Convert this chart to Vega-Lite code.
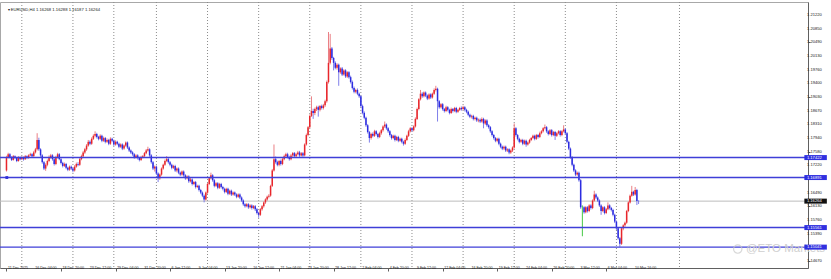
{
"$schema": "https://vega.github.io/schema/vega-lite/v6.json",
"width": 808, "height": 266,
"autosize": {"type": "none"},
"padding": {"left": 0, "top": 2, "right": 23, "bottom": 11},
"background": "#ffffff",
"config": {"view": {"stroke": "#a8a8a8", "strokeWidth": 1}, "font": "Liberation Sans",
  "axis": {"labels": false, "grid": false, "title": null, "tickColor": "#606060", "domainColor": "#606060", "tickSize": 2.5}},
"datasets": {
"candles": [
{"i":0,"o":1.1708,"h":1.1747,"l":1.1705,"c":1.1743},{"i":1,"o":1.1743,"h":1.1755,"l":1.1740,"c":1.1751},{"i":2,"o":1.1751,"h":1.1754,"l":1.1740,"c":1.1743},{"i":3,"o":1.1743,"h":1.1746,"l":1.1733,"c":1.1736},{"i":4,"o":1.1736,"h":1.1749,"l":1.1734,"c":1.1746},{"i":5,"o":1.1746,"h":1.1748,"l":1.1738,"c":1.1741},{"i":6,"o":1.1741,"h":1.1743,"l":1.1730,"c":1.1733},{"i":7,"o":1.1733,"h":1.1746,"l":1.1731,"c":1.1743},{"i":8,"o":1.1743,"h":1.1745,"l":1.1735,"c":1.1738},{"i":9,"o":1.1738,"h":1.1746,"l":1.1736,"c":1.1743},
{"i":10,"o":1.1743,"h":1.1745,"l":1.1734,"c":1.1738},{"i":11,"o":1.1738,"h":1.1749,"l":1.1736,"c":1.1746},{"i":12,"o":1.1746,"h":1.1748,"l":1.1738,"c":1.1741},{"i":13,"o":1.1741,"h":1.1751,"l":1.1739,"c":1.1748},{"i":14,"o":1.1748,"h":1.1755,"l":1.1746,"c":1.1751},{"i":15,"o":1.1751,"h":1.1754,"l":1.1743,"c":1.1746},{"i":16,"o":1.1746,"h":1.1760,"l":1.1744,"c":1.1756},{"i":17,"o":1.1756,"h":1.1768,"l":1.1753,"c":1.1764},{"i":18,"o":1.1764,"h":1.1807,"l":1.1761,"c":1.1789},{"i":19,"o":1.1789,"h":1.1795,"l":1.1760,"c":1.1764},
{"i":20,"o":1.1764,"h":1.1767,"l":1.1744,"c":1.1748},{"i":21,"o":1.1748,"h":1.1751,"l":1.1726,"c":1.1730},{"i":22,"o":1.1730,"h":1.1733,"l":1.1709,"c":1.1713},{"i":23,"o":1.1713,"h":1.1727,"l":1.1707,"c":1.1723},{"i":24,"o":1.1723,"h":1.1737,"l":1.1719,"c":1.1733},{"i":25,"o":1.1733,"h":1.1748,"l":1.1730,"c":1.1743},{"i":26,"o":1.1743,"h":1.1752,"l":1.1739,"c":1.1748},{"i":27,"o":1.1748,"h":1.1751,"l":1.1734,"c":1.1738},{"i":28,"o":1.1738,"h":1.1741,"l":1.1721,"c":1.1725},{"i":29,"o":1.1725,"h":1.1747,"l":1.1722,"c":1.1743},
{"i":30,"o":1.1743,"h":1.1755,"l":1.1740,"c":1.1751},{"i":31,"o":1.1751,"h":1.1754,"l":1.1735,"c":1.1738},{"i":32,"o":1.1738,"h":1.1741,"l":1.1724,"c":1.1728},{"i":33,"o":1.1728,"h":1.1731,"l":1.1716,"c":1.1720},{"i":34,"o":1.1720,"h":1.1729,"l":1.1717,"c":1.1725},{"i":35,"o":1.1725,"h":1.1728,"l":1.1711,"c":1.1715},{"i":36,"o":1.1715,"h":1.1718,"l":1.1706,"c":1.1710},{"i":37,"o":1.1710,"h":1.1721,"l":1.1707,"c":1.1718},{"i":38,"o":1.1718,"h":1.1721,"l":1.1709,"c":1.1713},{"i":39,"o":1.1713,"h":1.1716,"l":1.1703,"c":1.1708},
{"i":40,"o":1.1708,"h":1.1722,"l":1.1705,"c":1.1718},{"i":41,"o":1.1718,"h":1.1729,"l":1.1715,"c":1.1725},{"i":42,"o":1.1725,"h":1.1730,"l":1.1719,"c":1.1723},{"i":43,"o":1.1723,"h":1.1742,"l":1.1720,"c":1.1738},{"i":44,"o":1.1738,"h":1.1750,"l":1.1735,"c":1.1746},{"i":45,"o":1.1746,"h":1.1760,"l":1.1743,"c":1.1756},{"i":46,"o":1.1756,"h":1.1768,"l":1.1752,"c":1.1764},{"i":47,"o":1.1764,"h":1.1778,"l":1.1760,"c":1.1774},{"i":48,"o":1.1774,"h":1.1789,"l":1.1771,"c":1.1784},{"i":49,"o":1.1784,"h":1.1788,"l":1.1775,"c":1.1779},
{"i":50,"o":1.1779,"h":1.1796,"l":1.1776,"c":1.1792},{"i":51,"o":1.1792,"h":1.1804,"l":1.1789,"c":1.1800},{"i":52,"o":1.1800,"h":1.1812,"l":1.1796,"c":1.1805},{"i":53,"o":1.1805,"h":1.1808,"l":1.1793,"c":1.1797},{"i":54,"o":1.1797,"h":1.1800,"l":1.1788,"c":1.1792},{"i":55,"o":1.1792,"h":1.1804,"l":1.1789,"c":1.1800},{"i":56,"o":1.1800,"h":1.1803,"l":1.1783,"c":1.1787},{"i":57,"o":1.1787,"h":1.1798,"l":1.1784,"c":1.1794},{"i":58,"o":1.1794,"h":1.1797,"l":1.1780,"c":1.1784},{"i":59,"o":1.1784,"h":1.1793,"l":1.1781,"c":1.1789},
{"i":60,"o":1.1789,"h":1.1792,"l":1.1775,"c":1.1779},{"i":61,"o":1.1779,"h":1.1796,"l":1.1776,"c":1.1792},{"i":62,"o":1.1792,"h":1.1795,"l":1.1783,"c":1.1787},{"i":63,"o":1.1787,"h":1.1790,"l":1.1773,"c":1.1777},{"i":64,"o":1.1777,"h":1.1788,"l":1.1774,"c":1.1784},{"i":65,"o":1.1784,"h":1.1787,"l":1.1775,"c":1.1779},{"i":66,"o":1.1779,"h":1.1782,"l":1.1767,"c":1.1771},{"i":67,"o":1.1771,"h":1.1780,"l":1.1768,"c":1.1777},{"i":68,"o":1.1777,"h":1.1780,"l":1.1762,"c":1.1766},{"i":69,"o":1.1766,"h":1.1777,"l":1.1763,"c":1.1774},
{"i":70,"o":1.1774,"h":1.1785,"l":1.1771,"c":1.1782},{"i":71,"o":1.1782,"h":1.1785,"l":1.1765,"c":1.1769},{"i":72,"o":1.1769,"h":1.1772,"l":1.1757,"c":1.1761},{"i":73,"o":1.1761,"h":1.1764,"l":1.1752,"c":1.1756},{"i":74,"o":1.1756,"h":1.1759,"l":1.1747,"c":1.1751},{"i":75,"o":1.1751,"h":1.1754,"l":1.1739,"c":1.1743},{"i":76,"o":1.1743,"h":1.1751,"l":1.1740,"c":1.1748},{"i":77,"o":1.1748,"h":1.1751,"l":1.1737,"c":1.1741},{"i":78,"o":1.1741,"h":1.1744,"l":1.1732,"c":1.1736},{"i":79,"o":1.1736,"h":1.1747,"l":1.1733,"c":1.1743},
{"i":80,"o":1.1743,"h":1.1749,"l":1.1740,"c":1.1746},{"i":81,"o":1.1746,"h":1.1757,"l":1.1743,"c":1.1754},{"i":82,"o":1.1754,"h":1.1765,"l":1.1751,"c":1.1761},{"i":83,"o":1.1761,"h":1.1771,"l":1.1758,"c":1.1764},{"i":84,"o":1.1764,"h":1.1767,"l":1.1744,"c":1.1748},{"i":85,"o":1.1748,"h":1.1751,"l":1.1726,"c":1.1730},{"i":86,"o":1.1730,"h":1.1733,"l":1.1709,"c":1.1713},{"i":87,"o":1.1713,"h":1.1721,"l":1.1705,"c":1.1718},{"i":88,"o":1.1718,"h":1.1721,"l":1.1696,"c":1.1700},{"i":89,"o":1.1700,"h":1.1703,"l":1.1677,"c":1.1687},
{"i":90,"o":1.1687,"h":1.1700,"l":1.1683,"c":1.1697},{"i":91,"o":1.1697,"h":1.1716,"l":1.1694,"c":1.1713},{"i":92,"o":1.1713,"h":1.1726,"l":1.1710,"c":1.1723},{"i":93,"o":1.1723,"h":1.1737,"l":1.1720,"c":1.1733},{"i":94,"o":1.1733,"h":1.1746,"l":1.1730,"c":1.1738},{"i":95,"o":1.1738,"h":1.1741,"l":1.1726,"c":1.1730},{"i":96,"o":1.1730,"h":1.1733,"l":1.1719,"c":1.1723},{"i":97,"o":1.1723,"h":1.1726,"l":1.1711,"c":1.1715},{"i":98,"o":1.1715,"h":1.1723,"l":1.1712,"c":1.1720},{"i":99,"o":1.1720,"h":1.1723,"l":1.1704,"c":1.1708},
{"i":100,"o":1.1708,"h":1.1716,"l":1.1703,"c":1.1713},{"i":101,"o":1.1713,"h":1.1716,"l":1.1698,"c":1.1702},{"i":102,"o":1.1702,"h":1.1705,"l":1.1693,"c":1.1697},{"i":103,"o":1.1697,"h":1.1708,"l":1.1694,"c":1.1705},{"i":104,"o":1.1705,"h":1.1708,"l":1.1691,"c":1.1695},{"i":105,"o":1.1695,"h":1.1698,"l":1.1683,"c":1.1687},{"i":106,"o":1.1687,"h":1.1695,"l":1.1684,"c":1.1692},{"i":107,"o":1.1692,"h":1.1695,"l":1.1675,"c":1.1679},{"i":108,"o":1.1679,"h":1.1688,"l":1.1676,"c":1.1684},{"i":109,"o":1.1684,"h":1.1687,"l":1.1668,"c":1.1672},
{"i":110,"o":1.1672,"h":1.1680,"l":1.1669,"c":1.1677},{"i":111,"o":1.1677,"h":1.1680,"l":1.1660,"c":1.1664},{"i":112,"o":1.1664,"h":1.1670,"l":1.1661,"c":1.1667},{"i":113,"o":1.1667,"h":1.1670,"l":1.1652,"c":1.1656},{"i":114,"o":1.1656,"h":1.1659,"l":1.1645,"c":1.1649},{"i":115,"o":1.1649,"h":1.1652,"l":1.1637,"c":1.1641},{"i":116,"o":1.1641,"h":1.1644,"l":1.1623,"c":1.1631},{"i":117,"o":1.1631,"h":1.1652,"l":1.1628,"c":1.1649},{"i":118,"o":1.1649,"h":1.1675,"l":1.1646,"c":1.1672},{"i":119,"o":1.1672,"h":1.1690,"l":1.1669,"c":1.1687},
{"i":120,"o":1.1687,"h":1.1702,"l":1.1684,"c":1.1695},{"i":121,"o":1.1695,"h":1.1698,"l":1.1678,"c":1.1682},{"i":122,"o":1.1682,"h":1.1685,"l":1.1663,"c":1.1667},{"i":123,"o":1.1667,"h":1.1677,"l":1.1664,"c":1.1674},{"i":124,"o":1.1674,"h":1.1677,"l":1.1658,"c":1.1662},{"i":125,"o":1.1662,"h":1.1675,"l":1.1659,"c":1.1672},{"i":126,"o":1.1672,"h":1.1675,"l":1.1660,"c":1.1664},{"i":127,"o":1.1664,"h":1.1667,"l":1.1655,"c":1.1659},{"i":128,"o":1.1659,"h":1.1662,"l":1.1647,"c":1.1651},{"i":129,"o":1.1651,"h":1.1662,"l":1.1648,"c":1.1659},
{"i":130,"o":1.1659,"h":1.1662,"l":1.1642,"c":1.1646},{"i":131,"o":1.1646,"h":1.1657,"l":1.1643,"c":1.1654},{"i":132,"o":1.1654,"h":1.1657,"l":1.1640,"c":1.1644},{"i":133,"o":1.1644,"h":1.1652,"l":1.1641,"c":1.1649},{"i":134,"o":1.1649,"h":1.1652,"l":1.1640,"c":1.1644},{"i":135,"o":1.1644,"h":1.1647,"l":1.1634,"c":1.1638},{"i":136,"o":1.1638,"h":1.1647,"l":1.1635,"c":1.1644},{"i":137,"o":1.1644,"h":1.1647,"l":1.1632,"c":1.1636},{"i":138,"o":1.1636,"h":1.1639,"l":1.1624,"c":1.1628},{"i":139,"o":1.1628,"h":1.1631,"l":1.1614,"c":1.1618},
{"i":140,"o":1.1618,"h":1.1621,"l":1.1609,"c":1.1613},{"i":141,"o":1.1613,"h":1.1621,"l":1.1610,"c":1.1618},{"i":142,"o":1.1618,"h":1.1621,"l":1.1606,"c":1.1610},{"i":143,"o":1.1610,"h":1.1618,"l":1.1607,"c":1.1615},{"i":144,"o":1.1615,"h":1.1618,"l":1.1604,"c":1.1608},{"i":145,"o":1.1608,"h":1.1616,"l":1.1605,"c":1.1613},{"i":146,"o":1.1613,"h":1.1616,"l":1.1600,"c":1.1605},{"i":147,"o":1.1605,"h":1.1608,"l":1.1591,"c":1.1595},{"i":148,"o":1.1595,"h":1.1598,"l":1.1582,"c":1.1590},{"i":149,"o":1.1590,"h":1.1608,"l":1.1587,"c":1.1605},
{"i":150,"o":1.1605,"h":1.1616,"l":1.1601,"c":1.1613},{"i":151,"o":1.1613,"h":1.1626,"l":1.1609,"c":1.1623},{"i":152,"o":1.1623,"h":1.1634,"l":1.1619,"c":1.1631},{"i":153,"o":1.1631,"h":1.1641,"l":1.1627,"c":1.1638},{"i":154,"o":1.1638,"h":1.1645,"l":1.1634,"c":1.1641},{"i":155,"o":1.1641,"h":1.1670,"l":1.1638,"c":1.1667},{"i":156,"o":1.1667,"h":1.1712,"l":1.1664,"c":1.1708},{"i":157,"o":1.1708,"h":1.1777,"l":1.1705,"c":1.1738},{"i":158,"o":1.1738,"h":1.1745,"l":1.1726,"c":1.1730},{"i":159,"o":1.1730,"h":1.1734,"l":1.1719,"c":1.1723},
{"i":160,"o":1.1723,"h":1.1736,"l":1.1719,"c":1.1733},{"i":161,"o":1.1733,"h":1.1737,"l":1.1721,"c":1.1725},{"i":162,"o":1.1725,"h":1.1742,"l":1.1722,"c":1.1738},{"i":163,"o":1.1738,"h":1.1750,"l":1.1735,"c":1.1746},{"i":164,"o":1.1746,"h":1.1755,"l":1.1742,"c":1.1751},{"i":165,"o":1.1751,"h":1.1755,"l":1.1740,"c":1.1743},{"i":166,"o":1.1743,"h":1.1747,"l":1.1734,"c":1.1738},{"i":167,"o":1.1738,"h":1.1752,"l":1.1735,"c":1.1748},{"i":168,"o":1.1748,"h":1.1757,"l":1.1744,"c":1.1754},{"i":169,"o":1.1754,"h":1.1757,"l":1.1742,"c":1.1746},
{"i":170,"o":1.1746,"h":1.1755,"l":1.1742,"c":1.1751},{"i":171,"o":1.1751,"h":1.1760,"l":1.1748,"c":1.1756},{"i":172,"o":1.1756,"h":1.1760,"l":1.1744,"c":1.1748},{"i":173,"o":1.1748,"h":1.1757,"l":1.1745,"c":1.1754},{"i":174,"o":1.1754,"h":1.1757,"l":1.1744,"c":1.1748},{"i":175,"o":1.1748,"h":1.1780,"l":1.1745,"c":1.1777},{"i":176,"o":1.1777,"h":1.1806,"l":1.1774,"c":1.1802},{"i":177,"o":1.1802,"h":1.1826,"l":1.1799,"c":1.1823},{"i":178,"o":1.1823,"h":1.1857,"l":1.1820,"c":1.1853},{"i":179,"o":1.1853,"h":1.1905,"l":1.1850,"c":1.1866},
{"i":180,"o":1.1866,"h":1.1872,"l":1.1845,"c":1.1861},{"i":181,"o":1.1861,"h":1.1875,"l":1.1855,"c":1.1871},{"i":182,"o":1.1871,"h":1.1880,"l":1.1866,"c":1.1876},{"i":183,"o":1.1876,"h":1.1880,"l":1.1851,"c":1.1869},{"i":184,"o":1.1869,"h":1.1882,"l":1.1865,"c":1.1879},{"i":185,"o":1.1879,"h":1.1883,"l":1.1870,"c":1.1874},{"i":186,"o":1.1874,"h":1.1885,"l":1.1870,"c":1.1881},{"i":187,"o":1.1881,"h":1.1896,"l":1.1877,"c":1.1892},{"i":188,"o":1.1892,"h":1.1947,"l":1.1888,"c":1.1943},{"i":189,"o":1.1943,"h":1.2076,"l":1.1939,"c":1.1994},
{"i":190,"o":1.1994,"h":1.2071,"l":1.1990,"c":1.2032},{"i":191,"o":1.2032,"h":1.2036,"l":1.2002,"c":1.2007},{"i":192,"o":1.2007,"h":1.2010,"l":1.1974,"c":1.1994},{"i":193,"o":1.1994,"h":1.1998,"l":1.1977,"c":1.1981},{"i":194,"o":1.1981,"h":1.1993,"l":1.1976,"c":1.1989},{"i":195,"o":1.1989,"h":1.1992,"l":1.1933,"c":1.1969},{"i":196,"o":1.1969,"h":1.1982,"l":1.1965,"c":1.1979},{"i":197,"o":1.1979,"h":1.1983,"l":1.1959,"c":1.1963},{"i":198,"o":1.1963,"h":1.1977,"l":1.1960,"c":1.1974},{"i":199,"o":1.1974,"h":1.1977,"l":1.1954,"c":1.1958},
{"i":200,"o":1.1958,"h":1.1972,"l":1.1954,"c":1.1969},{"i":201,"o":1.1969,"h":1.1972,"l":1.1952,"c":1.1956},{"i":202,"o":1.1956,"h":1.1960,"l":1.1939,"c":1.1943},{"i":203,"o":1.1943,"h":1.1947,"l":1.1923,"c":1.1927},{"i":204,"o":1.1927,"h":1.1931,"l":1.1913,"c":1.1917},{"i":205,"o":1.1917,"h":1.1925,"l":1.1913,"c":1.1922},{"i":206,"o":1.1922,"h":1.1926,"l":1.1908,"c":1.1912},{"i":207,"o":1.1912,"h":1.1915,"l":1.1901,"c":1.1905},{"i":208,"o":1.1905,"h":1.1908,"l":1.1875,"c":1.1879},{"i":209,"o":1.1879,"h":1.1883,"l":1.1857,"c":1.1861},
{"i":210,"o":1.1861,"h":1.1865,"l":1.1844,"c":1.1848},{"i":211,"o":1.1848,"h":1.1851,"l":1.1824,"c":1.1828},{"i":212,"o":1.1828,"h":1.1831,"l":1.1806,"c":1.1810},{"i":213,"o":1.1810,"h":1.1813,"l":1.1782,"c":1.1794},{"i":214,"o":1.1794,"h":1.1808,"l":1.1790,"c":1.1805},{"i":215,"o":1.1805,"h":1.1809,"l":1.1796,"c":1.1800},{"i":216,"o":1.1800,"h":1.1816,"l":1.1797,"c":1.1812},{"i":217,"o":1.1812,"h":1.1815,"l":1.1801,"c":1.1805},{"i":218,"o":1.1805,"h":1.1808,"l":1.1793,"c":1.1797},{"i":219,"o":1.1797,"h":1.1811,"l":1.1794,"c":1.1807},
{"i":220,"o":1.1807,"h":1.1818,"l":1.1803,"c":1.1815},{"i":221,"o":1.1815,"h":1.1828,"l":1.1811,"c":1.1825},{"i":222,"o":1.1825,"h":1.1838,"l":1.1821,"c":1.1830},{"i":223,"o":1.1830,"h":1.1833,"l":1.1816,"c":1.1820},{"i":224,"o":1.1820,"h":1.1823,"l":1.1808,"c":1.1812},{"i":225,"o":1.1812,"h":1.1815,"l":1.1798,"c":1.1802},{"i":226,"o":1.1802,"h":1.1805,"l":1.1790,"c":1.1794},{"i":227,"o":1.1794,"h":1.1803,"l":1.1791,"c":1.1800},{"i":228,"o":1.1800,"h":1.1803,"l":1.1785,"c":1.1789},{"i":229,"o":1.1789,"h":1.1800,"l":1.1786,"c":1.1797},
{"i":230,"o":1.1797,"h":1.1800,"l":1.1783,"c":1.1787},{"i":231,"o":1.1787,"h":1.1795,"l":1.1784,"c":1.1792},{"i":232,"o":1.1792,"h":1.1795,"l":1.1780,"c":1.1784},{"i":233,"o":1.1784,"h":1.1787,"l":1.1774,"c":1.1779},{"i":234,"o":1.1779,"h":1.1793,"l":1.1776,"c":1.1789},{"i":235,"o":1.1789,"h":1.1803,"l":1.1786,"c":1.1800},{"i":236,"o":1.1800,"h":1.1816,"l":1.1797,"c":1.1812},{"i":237,"o":1.1812,"h":1.1823,"l":1.1809,"c":1.1820},{"i":238,"o":1.1820,"h":1.1823,"l":1.1811,"c":1.1815},{"i":239,"o":1.1815,"h":1.1828,"l":1.1812,"c":1.1825},
{"i":240,"o":1.1825,"h":1.1849,"l":1.1822,"c":1.1845},{"i":241,"o":1.1845,"h":1.1875,"l":1.1842,"c":1.1871},{"i":242,"o":1.1871,"h":1.1900,"l":1.1868,"c":1.1897},{"i":243,"o":1.1897,"h":1.1922,"l":1.1894,"c":1.1912},{"i":244,"o":1.1912,"h":1.1916,"l":1.1901,"c":1.1905},{"i":245,"o":1.1905,"h":1.1918,"l":1.1902,"c":1.1915},{"i":246,"o":1.1915,"h":1.1918,"l":1.1903,"c":1.1907},{"i":247,"o":1.1907,"h":1.1910,"l":1.1895,"c":1.1899},{"i":248,"o":1.1899,"h":1.1913,"l":1.1896,"c":1.1910},{"i":249,"o":1.1910,"h":1.1913,"l":1.1898,"c":1.1902},
{"i":250,"o":1.1902,"h":1.1915,"l":1.1899,"c":1.1912},{"i":251,"o":1.1912,"h":1.1926,"l":1.1909,"c":1.1922},{"i":252,"o":1.1922,"h":1.1933,"l":1.1918,"c":1.1925},{"i":253,"o":1.1925,"h":1.1928,"l":1.1838,"c":1.1892},{"i":254,"o":1.1892,"h":1.1895,"l":1.1872,"c":1.1876},{"i":255,"o":1.1876,"h":1.1887,"l":1.1873,"c":1.1884},{"i":256,"o":1.1884,"h":1.1887,"l":1.1867,"c":1.1871},{"i":257,"o":1.1871,"h":1.1874,"l":1.1862,"c":1.1866},{"i":258,"o":1.1866,"h":1.1880,"l":1.1863,"c":1.1876},{"i":259,"o":1.1876,"h":1.1879,"l":1.1865,"c":1.1869},
{"i":260,"o":1.1869,"h":1.1872,"l":1.1857,"c":1.1861},{"i":261,"o":1.1861,"h":1.1875,"l":1.1858,"c":1.1871},{"i":262,"o":1.1871,"h":1.1874,"l":1.1862,"c":1.1866},{"i":263,"o":1.1866,"h":1.1877,"l":1.1863,"c":1.1874},{"i":264,"o":1.1874,"h":1.1877,"l":1.1860,"c":1.1864},{"i":265,"o":1.1864,"h":1.1872,"l":1.1861,"c":1.1869},{"i":266,"o":1.1869,"h":1.1877,"l":1.1866,"c":1.1874},{"i":267,"o":1.1874,"h":1.1878,"l":1.1867,"c":1.1871},{"i":268,"o":1.1871,"h":1.1880,"l":1.1868,"c":1.1876},{"i":269,"o":1.1876,"h":1.1879,"l":1.1865,"c":1.1869},
{"i":270,"o":1.1869,"h":1.1872,"l":1.1860,"c":1.1864},{"i":271,"o":1.1864,"h":1.1867,"l":1.1852,"c":1.1856},{"i":272,"o":1.1856,"h":1.1859,"l":1.1847,"c":1.1851},{"i":273,"o":1.1851,"h":1.1856,"l":1.1846,"c":1.1853},{"i":274,"o":1.1853,"h":1.1856,"l":1.1841,"c":1.1845},{"i":275,"o":1.1845,"h":1.1851,"l":1.1841,"c":1.1848},{"i":276,"o":1.1848,"h":1.1851,"l":1.1837,"c":1.1841},{"i":277,"o":1.1841,"h":1.1846,"l":1.1836,"c":1.1843},{"i":278,"o":1.1843,"h":1.1846,"l":1.1834,"c":1.1838},{"i":279,"o":1.1838,"h":1.1849,"l":1.1835,"c":1.1845},
{"i":280,"o":1.1845,"h":1.1848,"l":1.1820,"c":1.1833},{"i":281,"o":1.1833,"h":1.1844,"l":1.1829,"c":1.1841},{"i":282,"o":1.1841,"h":1.1844,"l":1.1824,"c":1.1828},{"i":283,"o":1.1828,"h":1.1831,"l":1.1819,"c":1.1823},{"i":284,"o":1.1823,"h":1.1826,"l":1.1808,"c":1.1812},{"i":285,"o":1.1812,"h":1.1815,"l":1.1798,"c":1.1802},{"i":286,"o":1.1802,"h":1.1805,"l":1.1790,"c":1.1794},{"i":287,"o":1.1794,"h":1.1797,"l":1.1783,"c":1.1787},{"i":288,"o":1.1787,"h":1.1795,"l":1.1783,"c":1.1792},{"i":289,"o":1.1792,"h":1.1795,"l":1.1775,"c":1.1779},
{"i":290,"o":1.1779,"h":1.1782,"l":1.1767,"c":1.1771},{"i":291,"o":1.1771,"h":1.1774,"l":1.1762,"c":1.1766},{"i":292,"o":1.1766,"h":1.1774,"l":1.1762,"c":1.1771},{"i":293,"o":1.1771,"h":1.1774,"l":1.1757,"c":1.1761},{"i":294,"o":1.1761,"h":1.1767,"l":1.1757,"c":1.1764},{"i":295,"o":1.1764,"h":1.1767,"l":1.1751,"c":1.1756},{"i":296,"o":1.1756,"h":1.1764,"l":1.1752,"c":1.1761},{"i":297,"o":1.1761,"h":1.1772,"l":1.1757,"c":1.1769},{"i":298,"o":1.1769,"h":1.1833,"l":1.1766,"c":1.1820},{"i":299,"o":1.1820,"h":1.1823,"l":1.1798,"c":1.1802},
{"i":300,"o":1.1802,"h":1.1805,"l":1.1788,"c":1.1792},{"i":301,"o":1.1792,"h":1.1795,"l":1.1780,"c":1.1784},{"i":302,"o":1.1784,"h":1.1792,"l":1.1781,"c":1.1789},{"i":303,"o":1.1789,"h":1.1792,"l":1.1775,"c":1.1779},{"i":304,"o":1.1779,"h":1.1790,"l":1.1776,"c":1.1787},{"i":305,"o":1.1787,"h":1.1790,"l":1.1771,"c":1.1777},{"i":306,"o":1.1777,"h":1.1785,"l":1.1774,"c":1.1782},{"i":307,"o":1.1782,"h":1.1792,"l":1.1779,"c":1.1789},{"i":308,"o":1.1789,"h":1.1797,"l":1.1786,"c":1.1794},{"i":309,"o":1.1794,"h":1.1803,"l":1.1791,"c":1.1800},
{"i":310,"o":1.1800,"h":1.1803,"l":1.1788,"c":1.1792},{"i":311,"o":1.1792,"h":1.1805,"l":1.1789,"c":1.1802},{"i":312,"o":1.1802,"h":1.1805,"l":1.1793,"c":1.1797},{"i":313,"o":1.1797,"h":1.1811,"l":1.1794,"c":1.1807},{"i":314,"o":1.1807,"h":1.1815,"l":1.1804,"c":1.1812},{"i":315,"o":1.1812,"h":1.1823,"l":1.1809,"c":1.1820},{"i":316,"o":1.1820,"h":1.1830,"l":1.1817,"c":1.1823},{"i":317,"o":1.1823,"h":1.1826,"l":1.1808,"c":1.1812},{"i":318,"o":1.1812,"h":1.1815,"l":1.1801,"c":1.1805},{"i":319,"o":1.1805,"h":1.1818,"l":1.1802,"c":1.1815},
{"i":320,"o":1.1815,"h":1.1818,"l":1.1798,"c":1.1802},{"i":321,"o":1.1802,"h":1.1813,"l":1.1799,"c":1.1810},{"i":322,"o":1.1810,"h":1.1813,"l":1.1789,"c":1.1800},{"i":323,"o":1.1800,"h":1.1810,"l":1.1797,"c":1.1807},{"i":324,"o":1.1807,"h":1.1815,"l":1.1804,"c":1.1812},{"i":325,"o":1.1812,"h":1.1815,"l":1.1798,"c":1.1802},{"i":326,"o":1.1802,"h":1.1815,"l":1.1799,"c":1.1812},{"i":327,"o":1.1812,"h":1.1828,"l":1.1809,"c":1.1817},{"i":328,"o":1.1817,"h":1.1820,"l":1.1803,"c":1.1807},{"i":329,"o":1.1807,"h":1.1810,"l":1.1780,"c":1.1784},
{"i":330,"o":1.1784,"h":1.1787,"l":1.1762,"c":1.1766},{"i":331,"o":1.1766,"h":1.1769,"l":1.1739,"c":1.1743},{"i":332,"o":1.1743,"h":1.1746,"l":1.1719,"c":1.1723},{"i":333,"o":1.1723,"h":1.1726,"l":1.1704,"c":1.1708},{"i":334,"o":1.1708,"h":1.1711,"l":1.1693,"c":1.1697},{"i":335,"o":1.1697,"h":1.1705,"l":1.1694,"c":1.1702},{"i":336,"o":1.1702,"h":1.1705,"l":1.1678,"c":1.1682},{"i":337,"o":1.1682,"h":1.1685,"l":1.1606,"c":1.1610},{"i":338,"o":1.1610,"h":1.1615,"l":1.1533,"c":1.1610},{"i":339,"o":1.1610,"h":1.1613,"l":1.1593,"c":1.1597},
{"i":340,"o":1.1597,"h":1.1613,"l":1.1594,"c":1.1610},{"i":341,"o":1.1610,"h":1.1613,"l":1.1596,"c":1.1600},{"i":342,"o":1.1600,"h":1.1618,"l":1.1597,"c":1.1615},{"i":343,"o":1.1615,"h":1.1618,"l":1.1604,"c":1.1608},{"i":344,"o":1.1608,"h":1.1631,"l":1.1605,"c":1.1628},{"i":345,"o":1.1628,"h":1.1654,"l":1.1625,"c":1.1644},{"i":346,"o":1.1644,"h":1.1647,"l":1.1632,"c":1.1636},{"i":347,"o":1.1636,"h":1.1639,"l":1.1624,"c":1.1628},{"i":348,"o":1.1628,"h":1.1631,"l":1.1611,"c":1.1615},{"i":349,"o":1.1615,"h":1.1618,"l":1.1590,"c":1.1600},
{"i":350,"o":1.1600,"h":1.1613,"l":1.1597,"c":1.1610},{"i":351,"o":1.1610,"h":1.1613,"l":1.1591,"c":1.1595},{"i":352,"o":1.1595,"h":1.1608,"l":1.1592,"c":1.1605},{"i":353,"o":1.1605,"h":1.1623,"l":1.1602,"c":1.1615},{"i":354,"o":1.1615,"h":1.1618,"l":1.1604,"c":1.1608},{"i":355,"o":1.1608,"h":1.1611,"l":1.1599,"c":1.1603},{"i":356,"o":1.1603,"h":1.1606,"l":1.1586,"c":1.1590},{"i":357,"o":1.1590,"h":1.1593,"l":1.1568,"c":1.1572},{"i":358,"o":1.1572,"h":1.1575,"l":1.1550,"c":1.1554},{"i":359,"o":1.1554,"h":1.1557,"l":1.1524,"c":1.1528},
{"i":360,"o":1.1528,"h":1.1531,"l":1.1505,"c":1.1513},{"i":361,"o":1.1513,"h":1.1557,"l":1.1510,"c":1.1554},{"i":362,"o":1.1554,"h":1.1565,"l":1.1549,"c":1.1562},{"i":363,"o":1.1562,"h":1.1572,"l":1.1558,"c":1.1569},{"i":364,"o":1.1569,"h":1.1603,"l":1.1566,"c":1.1600},{"i":365,"o":1.1600,"h":1.1626,"l":1.1597,"c":1.1623},{"i":366,"o":1.1623,"h":1.1644,"l":1.1620,"c":1.1641},{"i":367,"o":1.1641,"h":1.1667,"l":1.1638,"c":1.1651},{"i":368,"o":1.1651,"h":1.1654,"l":1.1640,"c":1.1644},{"i":369,"o":1.1644,"h":1.1664,"l":1.1641,"c":1.1656},
{"i":370,"o":1.1656,"h":1.1659,"l":1.1616,"c":1.1627},{"i":371,"o":1.16268,"h":1.16288,"l":1.16187,"c":1.16264}
],
"weeks": [{"i":9},{"i":39},{"i":63},{"i":88},{"i":118},{"i":148},{"i":178},{"i":208},{"i":238},{"i":268},{"i":298},{"i":328},{"i":358},{"i":395}],
"levels": [{"p":1.17422,"t":"1.17422"},{"p":1.16891,"t":"1.16891"},{"p":1.15561,"t":"1.15561"},{"p":1.15041,"t":"1.15041"}],
"anchor": [{"p":1.16891}],
"current": [{"p":1.16264,"t":"1.16264"}],
"xlab": [{"i":0,"t":"11 Dec 2025"},{"i":16,"t":"16 Dec 04:00"},{"i":32,"t":"18 Dec 20:00"},{"i":48,"t":"23 Dec 12:00"},{"i":64,"t":"29 Dec 04:00"},{"i":80,"t":"31 Dec 20:00"},{"i":96,"t":"6 Jan 12:00"},{"i":112,"t":"9 Jan 04:00"},{"i":128,"t":"13 Jan 20:00"},{"i":144,"t":"16 Jan 12:00"},{"i":160,"t":"21 Jan 04:00"},{"i":176,"t":"23 Jan 20:00"},{"i":192,"t":"28 Jan 12:00"},{"i":208,"t":"2 Feb 04:00"},{"i":224,"t":"4 Feb 20:00"},{"i":240,"t":"9 Feb 12:00"},{"i":256,"t":"12 Feb 04:00"},{"i":272,"t":"16 Feb 20:00"},{"i":288,"t":"19 Feb 12:00"},{"i":304,"t":"24 Feb 04:00"},{"i":320,"t":"26 Feb 20:00"},{"i":336,"t":"3 Mar 12:00"},{"i":352,"t":"6 Mar 04:00"},{"i":368,"t":"10 Mar 16:00"}],
"ylab": [{"p":1.2122,"t":"1.21220"},{"p":1.2085,"t":"1.20850"},{"p":1.2049,"t":"1.20490"},{"p":1.2013,"t":"1.20130"},{"p":1.1976,"t":"1.19760"},{"p":1.194,"t":"1.19400"},{"p":1.1903,"t":"1.19030"},{"p":1.1867,"t":"1.18670"},{"p":1.1831,"t":"1.18310"},{"p":1.1794,"t":"1.17940"},{"p":1.1758,"t":"1.17580"},{"p":1.1722,"t":"1.17220"},{"p":1.1649,"t":"1.16490"},{"p":1.1613,"t":"1.16130"},{"p":1.1576,"t":"1.15760"},{"p":1.1539,"t":"1.15390"},{"p":1.1467,"t":"1.14670"}],
"header": [{"t":"▾ EURUSD,H4  1.16268 1.16288 1.16187 1.16264"}],
"mark": [{"t":"@ETO Markets"}]
},
"layer": [
{"data": {"name": "weeks"}, "mark": {"type": "rule", "color": "#8c8c8c", "strokeWidth": 1, "strokeDash": [1, 2]},
 "encoding": {"x": {"field": "i", "type": "quantitative", "scale": {"domain": [-0.87, 467.5], "nice": false, "zero": false},
   "axis": {"orient": "bottom", "values": [0,16,32,48,64,80,96,112,128,144,160,176,192,208,224,240,256,272,288,304,320,336,352,368], "labels": false, "tickSize": 3}}}},
{"data": {"name": "current"}, "mark": {"type": "rule", "color": "#bdbdbd", "strokeWidth": 1},
 "encoding": {"y": {"field": "p", "type": "quantitative", "scale": {"domain": [1.14619, 1.21425], "nice": false, "zero": false},
   "axis": {"orient": "right", "values": [1.2122,1.2085,1.2049,1.2013,1.1976,1.194,1.1903,1.1867,1.1831,1.1794,1.1758,1.1722,1.1685,1.1649,1.1613,1.1576,1.1539,1.1503,1.1467], "labels": false, "tickSize": 2}}}},
{"data": {"name": "candles"}, "mark": {"type": "rule", "strokeWidth": 1},
 "encoding": {"x": {"field": "i", "type": "quantitative"},
   "y": {"field": "l", "type": "quantitative"}, "y2": {"field": "h"},
   "color": {"condition": [{"test": "datum.c == datum.o", "value": "#46c846"}, {"test": "datum.c > datum.o", "value": "#ea7f84"}], "value": "#7f7fea"}}},
{"data": {"name": "candles"}, "mark": {"type": "bar", "width": 1.5},
 "encoding": {"x": {"field": "i", "type": "quantitative"},
   "y": {"field": "o", "type": "quantitative"}, "y2": {"field": "c"},
   "color": {"condition": [{"test": "datum.c == datum.o", "value": "#46c846"}, {"test": "datum.c > datum.o", "value": "#e8262b"}], "value": "#2c2ce0"}}},
{"data": {"name": "levels"}, "mark": {"type": "rule", "color": "#3f3fd8", "strokeWidth": 1.4},
 "encoding": {"y": {"field": "p", "type": "quantitative"}}},
{"data": {"name": "anchor"}, "mark": {"type": "square", "color": "#3030d8", "size": 8, "opacity": 1},
 "encoding": {"x": {"datum": 0.2, "type": "quantitative"}, "y": {"field": "p", "type": "quantitative"}}},
{"data": {"name": "mark"}, "mark": {"type": "text", "color": "#cfcfcf", "fontSize": 11.5, "align": "left", "baseline": "middle"},
 "encoding": {"x": {"datum": 434, "type": "quantitative"},
   "y": {"datum": 1.14990, "type": "quantitative"}, "text": {"field": "t"}}},
{"data": {"name": "mark"}, "mark": {"type": "point", "shape": "circle", "color": "#c8c8c8", "strokeWidth": 1.2, "size": 70, "filled": false},
 "encoding": {"x": {"datum": 429.2, "type": "quantitative"},
   "y": {"datum": 1.14990, "type": "quantitative"}}},
{"data": {"name": "ylab"}, "mark": {"type": "text", "color": "#202020", "fontSize": 4.1, "align": "left", "baseline": "middle"},
 "encoding": {"x": {"datum": 469.9, "type": "quantitative"},
   "y": {"field": "p", "type": "quantitative"}, "text": {"field": "t"}}},
{"data": {"name": "xlab"}, "mark": {"type": "text", "color": "#202020", "fontSize": 3.6, "align": "left", "baseline": "middle", "dx": 1.5},
 "encoding": {"x": {"field": "i", "type": "quantitative"},
   "y": {"datum": 1.14491, "type": "quantitative"}, "text": {"field": "t"}}},
{"data": {"name": "levels"}, "mark": {"type": "bar", "height": 5, "color": "#3030e0"},
 "encoding": {"x": {"datum": 468.3, "type": "quantitative"}, "x2": {"datum": 481.5},
   "y": {"field": "p", "type": "quantitative"}}},
{"data": {"name": "levels"}, "mark": {"type": "text", "color": "#ffffff", "fontSize": 4.1, "align": "left", "baseline": "middle"},
 "encoding": {"x": {"datum": 469.8, "type": "quantitative"},
   "y": {"field": "p", "type": "quantitative"}, "text": {"field": "t"}}},
{"data": {"name": "current"}, "mark": {"type": "bar", "height": 5, "color": "#101010"},
 "encoding": {"x": {"datum": 468.3, "type": "quantitative"}, "x2": {"datum": 481.5},
   "y": {"field": "p", "type": "quantitative"}}},
{"data": {"name": "current"}, "mark": {"type": "text", "color": "#ffffff", "fontSize": 4.1, "align": "left", "baseline": "middle"},
 "encoding": {"x": {"datum": 469.8, "type": "quantitative"},
   "y": {"field": "p", "type": "quantitative"}, "text": {"field": "t"}}},
{"data": {"name": "header"}, "mark": {"type": "text", "color": "#202020", "fontSize": 4.2, "align": "left", "baseline": "middle"},
 "encoding": {"x": {"datum": 0.6, "type": "quantitative"},
   "y": {"datum": 1.21348, "type": "quantitative"}, "text": {"field": "t"}}}
]
}
